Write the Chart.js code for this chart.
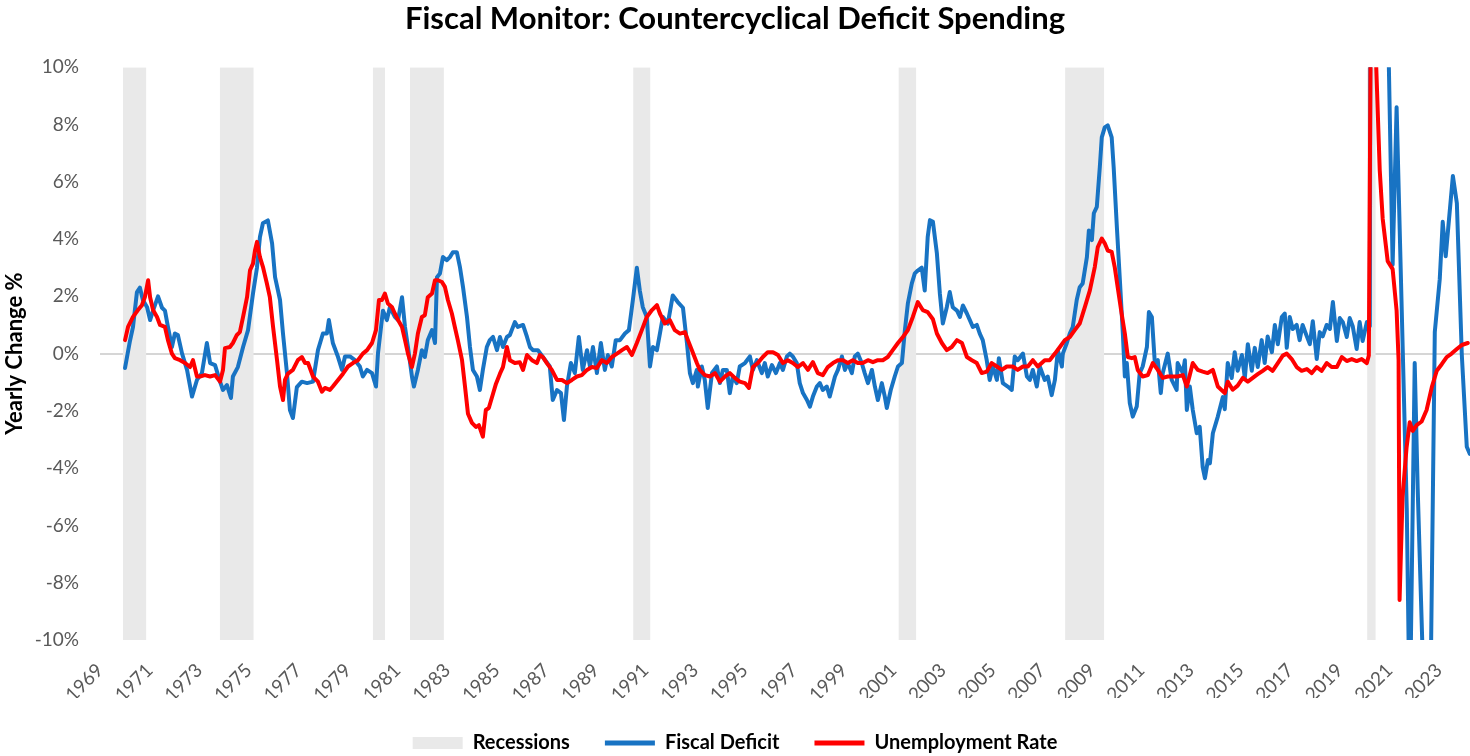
<!DOCTYPE html>
<html>
<head>
<meta charset="utf-8">
<script src="https://cdn.jsdelivr.net/npm/chart.js@4.4.1/dist/chart.umd.min.js"></script>
<style>
html,body{margin:0;padding:0;background:#fff;}
#wrap{width:1470px;height:756px;position:relative;}
</style>
</head>
<body>
<div id="wrap"><canvas id="c" width="1470" height="756"></canvas></div>
<script>
const chartTitle = 'Fiscal Monitor: Countercyclical Deficit Spending';
const yAxisTitle = 'Yearly Change %';
const seriesNames = ['Recessions', 'Fiscal Deficit', 'Unemployment Rate'];
const yearTicks = [1969,1971,1973,1975,1977,1979,1981,1983,1985,1987,1989,1991,1993,1995,1997,1999,2001,2003,2005,2007,2009,2011,2013,2015,2017,2019,2021,2023];
const recessionStarts = [1969.92,1973.83,1980.0,1981.5,1990.5,2001.2,2007.92,2020.1];
const recessionEnds   = [1970.87,1975.2,1980.5,1982.87,1991.2,2001.92,2009.5,2020.45];

// [decimal year, yearly change %]
const fiscalDeficit = [[1970.01,-0.5],[1970.21,0.45],[1970.33,0.93],[1970.49,2.15],[1970.61,2.3],[1970.73,1.87],[1970.9,1.62],[1971.02,1.17],[1971.14,1.5],[1971.34,2.0],[1971.5,1.6],[1971.62,1.5],[1971.74,0.93],[1971.9,0.23],[1972.02,0.7],[1972.14,0.65],[1972.31,0.0],[1972.51,-0.57],[1972.71,-1.5],[1972.91,-0.92],[1973.11,-0.68],[1973.31,0.37],[1973.44,-0.33],[1973.64,-0.4],[1973.84,-0.98],[1973.96,-1.27],[1974.12,-1.1],[1974.28,-1.55],[1974.36,-0.8],[1974.56,-0.47],[1974.77,0.23],[1974.97,0.82],[1975.17,2.1],[1975.33,3.0],[1975.45,4.07],[1975.57,4.55],[1975.77,4.65],[1975.94,3.85],[1976.06,2.67],[1976.26,1.87],[1976.38,0.7],[1976.54,-0.68],[1976.66,-1.97],[1976.78,-2.25],[1976.94,-1.17],[1977.14,-0.98],[1977.35,-1.03],[1977.59,-0.98],[1977.79,0.12],[1977.99,0.7],[1978.15,0.7],[1978.23,1.17],[1978.39,0.37],[1978.6,-0.12],[1978.76,-0.57],[1978.88,-0.1],[1979.08,-0.1],[1979.28,-0.23],[1979.48,-0.45],[1979.6,-0.8],[1979.77,-0.57],[1979.97,-0.68],[1980.13,-1.15],[1980.21,0.0],[1980.41,1.5],[1980.57,1.17],[1980.69,1.62],[1980.89,1.28],[1981.02,1.17],[1981.18,1.97],[1981.3,0.93],[1981.42,0.23],[1981.58,-0.8],[1981.66,-1.15],[1981.82,-0.57],[1981.98,0.12],[1982.1,-0.12],[1982.22,0.47],[1982.39,0.82],[1982.51,0.37],[1982.59,2.67],[1982.71,2.8],[1982.83,3.37],[1982.99,3.26],[1983.11,3.37],[1983.23,3.54],[1983.39,3.54],[1983.52,3.0],[1983.64,2.32],[1983.8,1.28],[1983.92,0.23],[1984.04,-0.57],[1984.2,-0.8],[1984.32,-1.27],[1984.44,-0.57],[1984.6,0.23],[1984.72,0.47],[1984.85,0.58],[1985.01,0.12],[1985.13,0.58],[1985.25,0.23],[1985.41,0.58],[1985.53,0.65],[1985.73,1.1],[1985.85,0.93],[1986.06,1.0],[1986.22,0.58],[1986.34,0.23],[1986.46,0.12],[1986.66,0.12],[1986.86,-0.12],[1987.14,-0.45],[1987.26,-1.62],[1987.43,-1.27],[1987.59,-1.38],[1987.71,-2.32],[1987.83,-1.15],[1987.99,-0.33],[1988.15,-0.68],[1988.31,0.58],[1988.47,-0.57],[1988.64,0.12],[1988.76,-0.45],[1988.88,0.23],[1989.04,-0.68],[1989.2,0.37],[1989.36,-0.57],[1989.48,-0.05],[1989.64,-0.45],[1989.8,0.47],[1989.97,0.47],[1990.17,0.7],[1990.33,0.82],[1990.49,1.87],[1990.65,3.0],[1990.77,2.2],[1990.89,1.62],[1991.05,1.28],[1991.18,-0.45],[1991.3,0.23],[1991.46,0.12],[1991.58,0.7],[1991.7,1.28],[1991.9,1.05],[1992.1,2.03],[1992.3,1.8],[1992.51,1.6],[1992.67,0.37],[1992.79,-0.68],[1992.91,-1.03],[1993.07,-0.57],[1993.11,-1.15],[1993.27,-0.45],[1993.39,-0.92],[1993.51,-1.9],[1993.68,-0.68],[1993.88,-0.45],[1994.0,-1.03],[1994.12,-0.57],[1994.28,-0.57],[1994.4,-1.38],[1994.52,-0.8],[1994.68,-1.03],[1994.8,-0.45],[1995.01,-0.33],[1995.21,-0.1],[1995.33,-0.57],[1995.49,-0.23],[1995.69,-0.68],[1995.81,-0.33],[1995.93,-0.8],[1996.1,-0.4],[1996.26,-0.68],[1996.42,-0.33],[1996.54,-0.57],[1996.7,-0.1],[1996.82,0.0],[1996.94,-0.1],[1997.1,-0.33],[1997.22,-1.03],[1997.35,-1.38],[1997.51,-1.62],[1997.63,-1.85],[1997.75,-1.5],[1997.91,-1.15],[1998.03,-1.03],[1998.15,-1.27],[1998.31,-1.15],[1998.43,-1.5],[1998.64,-0.8],[1998.76,-0.57],[1998.92,-0.1],[1999.04,-0.57],[1999.16,-0.33],[1999.32,-0.68],[1999.44,-0.1],[1999.56,0.0],[1999.72,-0.33],[1999.84,-0.68],[1999.97,-1.03],[2000.13,-0.57],[2000.25,-1.15],[2000.37,-1.62],[2000.53,-1.03],[2000.65,-1.5],[2000.73,-1.9],[2000.89,-1.27],[2001.05,-0.8],[2001.18,-0.45],[2001.34,-0.33],[2001.46,0.82],[2001.58,1.75],[2001.74,2.45],[2001.86,2.8],[2001.98,2.9],[2002.14,3.0],[2002.26,2.2],[2002.38,4.07],[2002.47,4.66],[2002.59,4.6],[2002.75,3.5],[2002.87,2.1],[2002.99,1.05],[2003.15,1.62],[2003.27,2.15],[2003.39,1.62],[2003.56,1.5],[2003.68,1.28],[2003.8,1.68],[2003.96,1.4],[2004.08,1.17],[2004.2,0.93],[2004.36,1.0],[2004.48,0.7],[2004.6,0.47],[2004.76,-0.23],[2004.88,-0.92],[2005.01,-0.45],[2005.17,-0.92],[2005.25,-0.16],[2005.41,-1.03],[2005.61,-1.15],[2005.77,-1.27],[2005.89,-0.1],[2006.01,-0.23],[2006.22,0.0],[2006.38,-0.8],[2006.5,-0.92],[2006.62,-0.57],[2006.78,-1.15],[2006.9,-0.45],[2007.1,-0.92],[2007.22,-0.8],[2007.38,-1.45],[2007.51,-0.92],[2007.63,0.12],[2007.79,-0.45],[2007.83,0.0],[2007.99,0.37],[2008.11,0.7],[2008.23,0.93],[2008.39,1.87],[2008.51,2.32],[2008.63,2.45],[2008.8,3.37],[2008.88,4.3],[2009.0,3.96],[2009.08,4.9],[2009.2,5.12],[2009.32,6.5],[2009.4,7.55],[2009.52,7.9],[2009.64,7.97],[2009.8,7.55],[2009.88,6.5],[2010.01,4.4],[2010.13,2.57],[2010.25,0.7],[2010.33,-0.8],[2010.41,-0.33],[2010.53,-1.73],[2010.65,-2.2],[2010.81,-1.85],[2010.93,-0.68],[2011.05,-0.45],[2011.22,0.23],[2011.3,1.45],[2011.42,1.28],[2011.54,-0.33],[2011.66,-0.23],[2011.78,-1.38],[2011.86,-0.68],[2012.06,0.0],[2012.22,-0.92],[2012.42,-1.27],[2012.46,-0.33],[2012.67,-0.68],[2012.75,-0.23],[2012.83,-1.97],[2012.95,-1.15],[2013.07,-1.97],[2013.23,-2.78],[2013.35,-2.56],[2013.47,-3.96],[2013.56,-4.35],[2013.68,-3.72],[2013.76,-3.83],[2013.88,-2.78],[2014.08,-2.2],[2014.28,-1.52],[2014.36,-1.94],[2014.48,-0.33],[2014.64,-0.85],[2014.76,0.05],[2014.88,-0.6],[2015.05,-0.05],[2015.17,-0.85],[2015.29,0.33],[2015.45,-0.6],[2015.57,0.2],[2015.69,-0.47],[2015.85,0.47],[2015.97,-0.33],[2016.09,0.6],[2016.26,0.05],[2016.38,1.0],[2016.5,0.33],[2016.66,1.28],[2016.78,1.4],[2016.86,0.2],[2016.98,1.28],[2017.1,0.86],[2017.26,1.0],[2017.38,0.47],[2017.5,1.0],[2017.67,0.6],[2017.79,0.33],[2017.91,1.13],[2018.07,-0.19],[2018.19,0.75],[2018.31,0.6],[2018.47,1.0],[2018.6,0.86],[2018.72,1.8],[2018.88,0.44],[2019.0,1.24],[2019.12,1.1],[2019.28,0.58],[2019.4,1.24],[2019.52,0.96],[2019.68,0.16],[2019.8,1.1],[2019.92,0.44],[2020.09,1.1],[2020.21,0.96],[2020.25,20],[2020.61,25],[2020.89,14],[2021.13,3.1],[2021.29,8.6],[2021.7,-5.4],[2021.82,-13],[2022.02,-0.33],[2022.14,-4.7],[2022.34,-10.5],[2022.51,-16],[2022.67,-11],[2022.83,0.75],[2023.03,2.6],[2023.15,4.6],[2023.27,3.4],[2023.56,6.2],[2023.72,5.25],[2023.92,-0.05],[2024.12,-3.25],[2024.24,-3.5]];

const unemploymentRate = [[1970.01,0.47],[1970.13,0.93],[1970.33,1.28],[1970.53,1.52],[1970.69,1.69],[1970.81,1.97],[1970.94,2.56],[1971.02,1.97],[1971.14,1.52],[1971.3,1.28],[1971.42,1.0],[1971.62,0.93],[1971.74,0.47],[1971.9,0.0],[1972.02,-0.16],[1972.23,-0.23],[1972.43,-0.33],[1972.63,-0.47],[1972.75,-0.23],[1972.91,-0.8],[1973.03,-0.8],[1973.23,-0.75],[1973.44,-0.8],[1973.64,-0.75],[1973.84,-0.98],[1973.96,-0.57],[1974.04,0.19],[1974.24,0.23],[1974.36,0.37],[1974.52,0.65],[1974.64,0.75],[1974.77,1.28],[1974.93,1.97],[1975.05,2.91],[1975.17,3.14],[1975.25,3.6],[1975.33,3.9],[1975.45,3.37],[1975.57,3.03],[1975.73,2.45],[1975.85,1.97],[1975.98,0.93],[1976.14,-0.23],[1976.26,-1.15],[1976.38,-1.62],[1976.46,-0.92],[1976.58,-0.7],[1976.78,-0.57],[1976.98,-0.23],[1977.14,-0.12],[1977.27,-0.33],[1977.39,-0.33],[1977.59,-0.8],[1977.79,-0.98],[1977.95,-1.33],[1978.07,-1.2],[1978.27,-1.27],[1978.39,-1.15],[1978.6,-0.92],[1978.8,-0.7],[1979.0,-0.45],[1979.2,-0.33],[1979.4,-0.23],[1979.6,0.0],[1979.77,0.12],[1979.97,0.37],[1980.13,0.82],[1980.25,1.87],[1980.37,1.87],[1980.49,2.1],[1980.61,1.75],[1980.77,1.63],[1980.89,1.4],[1981.02,1.17],[1981.18,0.93],[1981.3,0.47],[1981.42,0.0],[1981.58,-0.47],[1981.7,0.0],[1981.82,0.7],[1981.98,1.28],[1982.1,1.34],[1982.22,1.97],[1982.39,2.1],[1982.51,2.56],[1982.63,2.56],[1982.79,2.5],[1982.91,2.33],[1983.03,1.87],[1983.19,1.4],[1983.31,0.93],[1983.43,0.47],[1983.6,-0.23],[1983.72,-1.15],[1983.84,-2.1],[1984.0,-2.42],[1984.16,-2.56],[1984.28,-2.5],[1984.44,-2.9],[1984.56,-1.97],[1984.68,-1.9],[1984.85,-1.4],[1984.97,-1.05],[1985.13,-0.7],[1985.25,-0.47],[1985.41,0.23],[1985.53,-0.23],[1985.73,-0.33],[1985.93,-0.3],[1986.06,-0.57],[1986.22,-0.05],[1986.42,-0.23],[1986.62,-0.33],[1986.74,-0.05],[1986.86,-0.12],[1987.02,-0.33],[1987.22,-0.57],[1987.43,-0.92],[1987.63,-0.92],[1987.83,-1.03],[1988.03,-0.92],[1988.23,-0.8],[1988.43,-0.75],[1988.64,-0.57],[1988.84,-0.47],[1989.04,-0.5],[1989.24,-0.23],[1989.44,-0.33],[1989.64,-0.12],[1989.85,0.0],[1990.05,0.12],[1990.25,0.23],[1990.45,-0.05],[1990.65,0.37],[1990.85,0.82],[1991.05,1.28],[1991.26,1.52],[1991.46,1.69],[1991.58,1.4],[1991.78,1.05],[1991.98,1.17],[1992.18,0.82],[1992.39,0.7],[1992.59,0.75],[1992.71,0.47],[1992.87,0.12],[1993.07,-0.33],[1993.19,-0.57],[1993.39,-0.75],[1993.6,-0.8],[1993.8,-0.68],[1994.0,-0.98],[1994.2,-0.8],[1994.4,-0.68],[1994.6,-0.85],[1994.8,-0.98],[1995.01,-1.03],[1995.17,-1.2],[1995.33,-0.47],[1995.53,-0.33],[1995.73,-0.12],[1995.93,0.05],[1996.14,0.05],[1996.34,-0.05],[1996.54,-0.33],[1996.74,-0.23],[1996.94,-0.33],[1997.14,-0.47],[1997.35,-0.33],[1997.55,-0.57],[1997.75,-0.3],[1997.95,-0.68],[1998.15,-0.75],[1998.35,-0.47],[1998.56,-0.33],[1998.76,-0.23],[1998.96,-0.23],[1999.16,-0.33],[1999.36,-0.23],[1999.56,-0.33],[1999.76,-0.33],[1999.97,-0.23],[2000.17,-0.3],[2000.37,-0.23],[2000.57,-0.23],[2000.77,-0.12],[2000.97,0.12],[2001.18,0.37],[2001.38,0.58],[2001.58,0.82],[2001.78,1.28],[2001.98,1.8],[2002.18,1.52],[2002.38,1.45],[2002.59,1.2],[2002.75,0.7],[2002.95,0.37],[2003.15,0.12],[2003.35,0.23],[2003.56,0.47],[2003.76,0.37],[2003.96,-0.12],[2004.16,-0.23],[2004.36,-0.33],[2004.56,-0.68],[2004.76,-0.63],[2004.96,-0.33],[2005.17,-0.45],[2005.37,-0.57],[2005.57,-0.45],[2005.81,-0.45],[2006.01,-0.57],[2006.22,-0.45],[2006.42,-0.45],[2006.62,-0.23],[2006.82,-0.45],[2007.1,-0.23],[2007.3,-0.23],[2007.51,0.0],[2007.71,0.23],[2007.91,0.47],[2008.11,0.58],[2008.31,0.82],[2008.51,1.05],[2008.72,1.63],[2008.92,2.21],[2009.12,3.03],[2009.24,3.72],[2009.4,4.02],[2009.52,3.85],[2009.64,3.6],[2009.8,3.55],[2009.92,3.03],[2010.04,2.33],[2010.2,1.4],[2010.33,0.7],[2010.45,-0.12],[2010.61,-0.16],[2010.73,-0.12],[2010.85,-0.57],[2011.05,-0.8],[2011.26,-0.75],[2011.46,-0.33],[2011.66,-0.57],[2011.86,-0.85],[2012.06,-0.8],[2012.26,-0.8],[2012.46,-0.8],[2012.67,-0.75],[2012.83,-1.15],[2012.95,-0.75],[2013.07,-0.33],[2013.27,-0.57],[2013.47,-0.63],[2013.67,-0.68],[2013.88,-0.57],[2014.08,-1.15],[2014.36,-1.38],[2014.48,-0.98],[2014.68,-1.26],[2014.88,-1.12],[2015.09,-0.85],[2015.29,-0.98],[2015.49,-0.85],[2015.69,-0.72],[2015.89,-0.6],[2016.09,-0.47],[2016.29,-0.6],[2016.5,-0.33],[2016.7,-0.07],[2016.86,0.0],[2017.06,-0.19],[2017.26,-0.47],[2017.46,-0.6],[2017.67,-0.54],[2017.87,-0.68],[2018.07,-0.47],[2018.27,-0.6],[2018.47,-0.33],[2018.67,-0.47],[2018.88,-0.47],[2019.08,-0.12],[2019.28,-0.26],[2019.48,-0.19],[2019.68,-0.26],[2019.88,-0.19],[2020.09,-0.33],[2020.17,-0.07],[2020.25,12],[2020.41,11.5],[2020.61,6.4],[2020.73,4.7],[2020.93,3.23],[2021.13,2.95],[2021.29,1.5],[2021.37,-0.23],[2021.41,-8.6],[2021.53,-5.0],[2021.69,-3.3],[2021.82,-2.4],[2021.94,-2.7],[2022.1,-2.5],[2022.3,-2.37],[2022.5,-1.97],[2022.71,-1.17],[2022.91,-0.6],[2023.11,-0.37],[2023.31,-0.12],[2023.51,0.0],[2023.72,0.16],[2023.92,0.3],[2024.16,0.37]];

const Y_MIN = -10, Y_MAX = 10, Y_STEP = 2;
const X_MIN = 1969, X_MAX = 2024.25;

const COLOR_RECESSION = '#e9e9e9';
const COLOR_FISCAL = '#1873c3';
const COLOR_UNEMP = '#ff0000';
const FONT = 'Lato, "Open Sans", sans-serif';

const recessionPoints = [];
recessionStarts.forEach((s, i) => {
  recessionPoints.push({x: s, y: Y_MAX}, {x: recessionEnds[i], y: Y_MAX}, {x: recessionEnds[i] + 0.01, y: null});
});

const toXY = arr => arr.map(p => ({x: p[0], y: p[1]}));

new Chart(document.getElementById('c'), {
  type: 'line',
  data: {
    datasets: [
      {
        label: seriesNames[0],
        data: recessionPoints,
        fill: 'start',
        backgroundColor: COLOR_RECESSION,
        borderColor: 'rgba(0,0,0,0)',
        borderWidth: 0,
        pointRadius: 0,
        spanGaps: false,
        order: 2
      },
      {
        label: seriesNames[1],
        data: toXY(fiscalDeficit),
        borderColor: COLOR_FISCAL,
        backgroundColor: COLOR_FISCAL,
        borderWidth: 4,
        pointRadius: 0,
        tension: 0,
        fill: false,
        borderJoinStyle: 'round',
        borderCapStyle: 'round',
        order: 1
      },
      {
        label: seriesNames[2],
        data: toXY(unemploymentRate),
        borderColor: COLOR_UNEMP,
        backgroundColor: COLOR_UNEMP,
        borderWidth: 4,
        pointRadius: 0,
        tension: 0,
        fill: false,
        borderJoinStyle: 'round',
        borderCapStyle: 'round',
        order: 0
      }
    ]
  },
  options: {
    responsive: false,
    animation: false,
    devicePixelRatio: 1,
    events: [],
    layout: {padding: {left: 0, right: 0, top: 0, bottom: 0}},
    plugins: {
      tooltip: {enabled: false},
      title: {
        display: true,
        text: chartTitle,
        color: '#000',
        font: {family: FONT, size: 31, weight: 'bold'},
        padding: {top: 0, bottom: 30}
      },
      legend: {
        display: true,
        position: 'bottom',
        maxHeight: 58,
        labels: {
          usePointStyle: true,
          pointStyleWidth: 50,
          boxHeight: 12,
          padding: 35,
          color: '#000',
          font: {family: FONT, size: 20, weight: 'bold'},
          sort: (a, b) => a.datasetIndex - b.datasetIndex,
          generateLabels: (chart) => Chart.defaults.plugins.legend.labels.generateLabels(chart).map(item => {
            const ds = chart.data.datasets[item.datasetIndex];
            if (ds.label === seriesNames[0]) {
              item.pointStyle = 'rect';
              item.fillStyle = COLOR_RECESSION;
              item.strokeStyle = COLOR_RECESSION;
              item.lineWidth = 0;
            } else {
              item.pointStyle = 'line';
              item.strokeStyle = ds.borderColor;
              item.fillStyle = ds.borderColor;
              item.lineWidth = 5;
            }
            return item;
          })
        }
      }
    },
    scales: {
      x: {
        type: 'linear',
        min: X_MIN,
        max: X_MAX,
        afterBuildTicks: (scale) => { scale.ticks = yearTicks.map(v => ({value: v})); },
        afterFit: (scale) => { scale.height = 58; scale.paddingRight = 0; scale.paddingLeft = 0; },
        ticks: {
          autoSkip: false,
          minRotation: 45,
          maxRotation: 45,
          padding: 19,
          color: '#595959',
          font: {family: FONT, size: 19},
          callback: (v) => String(v)
        },
        grid: {display: false, drawTicks: false},
        border: {display: false}
      },
      y: {
        type: 'linear',
        min: Y_MIN,
        max: Y_MAX,
        afterFit: (scale) => { scale.width = 100; },
        ticks: {
          stepSize: Y_STEP,
          padding: 21,
          color: '#595959',
          font: {family: FONT, size: 19},
          callback: (v) => v + '%'
        },
        grid: {
          drawTicks: false,
          lineWidth: 2,
          color: (ctx) => (ctx.tick && ctx.tick.value === 0) ? '#d6d6d6' : 'rgba(0,0,0,0)'
        },
        border: {display: false},
        title: {
          display: true,
          text: yAxisTitle,
          color: '#000',
          font: {family: FONT, size: 22, weight: 'bold'},
          padding: {top: 2, bottom: 0}
        }
      }
    }
  }
});
</script>
</body>
</html>
